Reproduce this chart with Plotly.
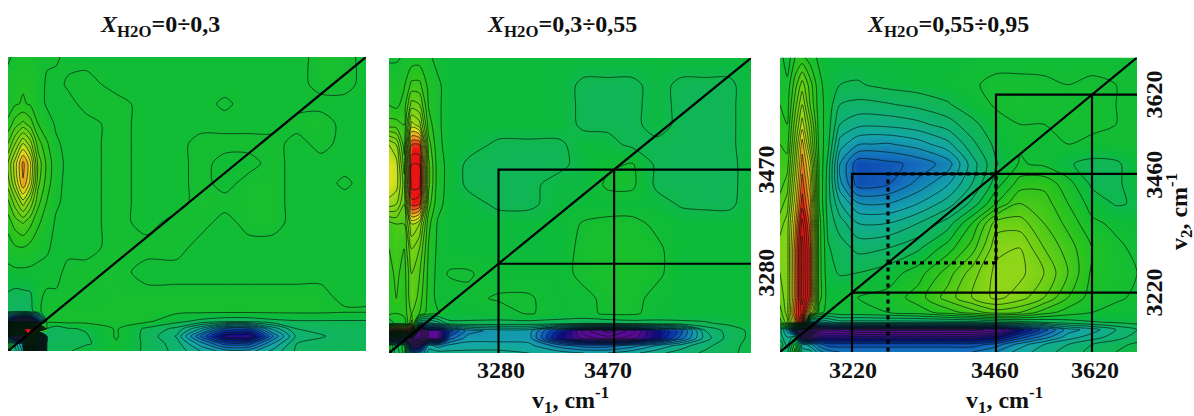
import plotly.graph_objects as go

W, H = 1194, 416
TITLES = ["<b><i>X</i><sub>H2O</sub>=0÷0,3</b>", "<b><i>X</i><sub>H2O</sub>=0,3÷0,55</b>", "<b><i>X</i><sub>H2O</sub>=0,55÷0,95</b>"]

X = [3100,3112,3125,3137,3150,3165,3180,3200,3230,3280,3330,3380,3420,3460,3500,3540,3580,3620,3660,3695]
Y = [3695,3640,3600,3560,3520,3480,3440,3400,3360,3310,3260,3210,3180,3160,3145,3130,3115,3100]

P1 = [
 [.3,.8,1.0,.9,.6,.6,.6,.3,.3,.3,.3,.3,.3,.3,.3,.3,.3,.7,.7,.3],
 [1.0,1.2,1.4,1.3,.8,.4,.3,.6,.7,.3,.3,.3,.3,.3,.3,.3,.3,.7,.7,.3],
 [.8,1.4,1.6,1.4,.8,.4,.3,.3,.7,.7,.3,.3,.3,.6,.3,.3,.3,.3,.3,.3],
 [1.8,3.0,3.8,3.0,1.5,.8,.4,.3,.3,.7,.3,.3,.3,.3,.3,.3,.7,.8,.3,.3],
 [3.5,5.5,7.5,6.0,3.0,1.6,.6,.3,.3,.7,.3,.3,.7,.7,.7,.7,.3,.7,.3,.3],
 [5.5,8.0,10.8,8.8,4.2,2.2,.8,.3,.3,.7,.3,.3,.7,.3,.3,.7,.3,.3,.3,.3],
 [5.0,7.5,10.4,8.2,3.8,2.0,.7,.3,.3,.7,.3,.3,.7,.3,.7,.7,.3,.3,.6,.3],
 [3.2,5.0,7.0,5.2,2.8,1.4,.6,.3,.3,.7,.3,.3,.7,.7,.7,.7,.3,.3,.3,.3],
 [2.0,3.0,3.6,2.8,1.7,.9,.4,.3,.3,.7,.3,.7,.7,.3,.7,.7,.3,.3,.3,.3],
 [.9,1.4,1.5,1.2,.8,.6,.3,.3,.3,.7,.7,.7,.3,.3,.3,.3,.3,.3,.3,.3],
 [.3,.3,.3,.3,.3,.3,.3,.7,.7,.7,.3,.3,.3,.3,.3,.3,.3,.3,.3,.3],
 [-.7,-.9,-.8,-.7,.4,.6,.6,.6,.6,.7,.7,.7,.7,.7,.7,.7,.7,.7,.3,.3],
 [-1.2,-1.5,-1.5,-1.0,.4,.7,.7,.7,.7,.7,.7,.7,.7,.7,.7,.7,.7,.7,.6,.6],
 [-12,-16,-20,-18,-10,.8,.8,.8,.8,.7,.7,-.2,-.8,-1.2,-1.2,-.8,-.6,-.6,-.6,-.6],
 [26,30,34,32,20,-.6,-1.2,-.6,-.4,.6,-.7,-1.8,-4.5,-8.5,-8.8,-4.2,-1.5,-1.2,-.9,-.8],
 [-10,-16,-18,34,-30,-1.5,-1.0,-.8,-.6,.6,-.8,-2.6,-7.5,-12,-12.5,-6.5,-2.2,-1.6,-1.1,-.8],
 [2,-3,-6,36,-30,-1.0,-.7,-.7,-.7,.4,-.7,-2.0,-5.0,-8.0,-8.0,-4.5,-1.5,-1.2,-.9,-.7],
 [-3,-2,-5,32,-26,-.9,-.6,-.7,.3,.3,-.7,-1.8,-3.5,-5.0,-5.0,-3.2,-1.3,-1.0,-.7,-.6],
]

P2 = [
 [.3,.4,.6,.9,1.0,.7,.2,0,0,0,0,0,0,0,0,0,0,0,0,0],
 [1.4,1.0,1.4,2.8,2.8,1.2,.7,0,0,0,0,-.1,-.7,-.7,-.7,-.2,-.7,-.7,-.7,0],
 [1.5,1.2,2.0,5.0,4.6,1.4,.7,0,0,0,0,-.1,-.7,-.7,-.7,-.2,-.7,-.7,-.7,0],
 [3.0,3.0,2.5,8.0,7.0,2.0,.7,0,0,0,0,0,-.7,-.7,-.7,-.2,-.7,-.7,-.7,0],
 [7.5,6.5,3.0,12.5,12.5,3.0,.8,0,-.1,-.7,-.7,-.7,0,-.2,-.7,-.7,-.7,-.7,-.7,0],
 [8.5,8.0,4.0,14.5,14.5,3.8,1.0,.1,-.7,-.7,-.7,-.7,-.2,.3,.6,-.7,-.7,-.7,-.8,0],
 [8.5,8.0,5.0,15.0,15.0,3.8,1.0,.1,-.7,-.7,-.7,-.2,-.2,.7,.7,-.7,-.7,-.7,-.8,0],
 [7.0,6.5,4.5,13.0,12.5,3.0,.8,.1,-.1,-.7,-.7,-.1,0,0,0,-.1,-.6,-.7,-.7,0],
 [3.0,3.5,3.5,7.5,6.5,1.8,.4,0,0,0,0,0,.6,.8,.8,.3,0,0,0,0],
 [2.5,3.0,2.5,5.5,4.5,1.4,.3,0,0,0,-.1,0,.8,1.0,1.0,.7,0,0,0,0],
 [2.0,2.8,2.0,4.5,3.6,1.2,.2,.6,.6,.1,.1,.1,.8,1.0,1.0,.7,0,0,0,0],
 [1.6,2.5,1.8,4.5,3.0,1.1,.2,0,.3,.6,.6,.1,.2,.8,.8,.2,0,0,0,0],
 [1.8,1.5,2.0,3.5,2.5,.9,.6,0,0,.1,.6,.1,.2,.7,.7,.1,0,0,0,0],
 [-.5,1.0,.5,5.0,-4.0,-4.0,-3.0,-.7,-.7,-.8,-.9,-.9,-1.2,-1.2,-1.0,-.8,-.7,-.6,-.3,0],
 [16,18,16,20,-20,-14,-14,-9,-6,-5,-5,-10,-15,-17,-15,-11,-8,-2.5,-1.0,-.3],
 [-14,-16,-14,-22,-22,-14,-14,-7,-5,-5,-5,-11,-14,-15,-14,-11,-7,-3,-1.0,-.3],
 [2,-1,1,-14,-12,-4,-5,-4.2,-4,-4,-4.2,-6,-7,-7,-6,-4.5,-3,-1.8,-.8,-.2],
 [1.5,-1.5,1,-7,-6,-3,-3,-3.2,-3.2,-3.2,-3.5,-4,-4.5,-4.5,-3.8,-2.8,-2,-1.3,-.7,-.2],
]

P3 = [
 [1.0,-.2,1.5,1.8,1.0,.3,0,-.1,0,0,0,0,.1,.2,.2,.3,.3,.3,.3,.3],
 [.6,.8,3.0,5.0,3.0,.8,0,-.5,-.6,-.2,0,.1,.4,.7,.7,.6,.5,.6,.5,.4],
 [1.5,1.0,4.0,6.5,3.5,.9,.1,-1.5,-1.8,-1.6,-1.2,-.6,.1,.6,.7,.6,.6,.7,.5,.4],
 [2.0,1.5,5.0,8.0,5.0,1.0,0,-2.5,-3.2,-3.2,-2.8,-2.0,-.8,.2,.5,.5,.6,.7,.5,.4],
 [2.5,2.0,6.0,10,6.0,1.2,-.2,-4.0,-5.4,-5.6,-5.0,-3.8,-1.8,-.2,.4,.2,.5,.3,.4,.4],
 [3.0,3.0,7.0,11,8.0,1.5,-.8,-5.5,-8.2,-7.8,-7.2,-6.0,-3.0,-.6,.6,.3,-.4,-.8,-.7,.1],
 [3.0,4.0,8.0,12,9.0,1.5,-1.0,-5.2,-8.0,-7.6,-6.2,-4.6,-2.5,0,2.0,2.2,.9,-.7,-.7,0],
 [4.0,5.0,9.0,13,10,1.5,-1.0,-3.4,-5.4,-5.5,-4.5,-3.0,-1.2,1.5,3.5,3.0,1.5,.1,-.6,-.4],
 [5.0,6.0,10,15,11,2.0,-.8,-2.0,-3.5,-3.5,-2.5,-1.0,1.5,5.0,5.0,3.5,2.2,.7,.3,0],
 [6.0,6.0,11,16,12,2.0,-.4,-1.0,-1.8,-1.5,-.7,1.0,3.0,6.2,6.5,4.5,3.0,1.5,.7,.3],
 [5.5,6.0,11,16,12,2.0,-.2,-.6,-.5,0,1.0,3.0,5.0,6.8,6.8,5.5,3.5,1.3,.8,.5],
 [5.0,6.0,11,16,12,2.0,0,.3,.5,.8,2.0,4.0,5.5,6.8,6.0,4.5,2.5,1.0,.6,.4],
 [4.0,6.0,12,15,8.0,1.0,0,.2,.2,.5,1.0,2.0,3.0,4.0,3.5,2.0,1.0,.5,.3,.2],
 [3.0,5.0,10,18,-6,-5,-4,-3,-3,-3,-3,-3,-3,-2.5,-2,-1.5,-1,-.6,-.4,-.2],
 [-2,-5,-12,-22,-24,-16,-15,-15,-16,-16,-16,-16,-16,-15,-11,-8,-5,-4,-2.5,-1.5],
 [-2,-3.5,-2,-14,-14,-12,-12,-12,-12,-12,-12,-12,-12,-11,-8,-6,-4,-3,-2,-1],
 [-.5,-3,1,-4,-5,-7,-8,-8,-8,-8,-8,-8,-8,-7,-5,-3.5,-2.5,-1.5,-.8,-.3],
 [-2,-2,2,-3,-3,-5,-6,-6.5,-6.5,-6.5,-6.5,-6.5,-6.5,-5.5,-4,-3,-2,-1.2,-.5,0],
]
PANELS = [P1, P2, P3]

# v values of guide lines
V2 = [3280, 3470]
V3 = [3220, 3460, 3620]
DOT = [3280, 3460]
LOW, HIGH = 3100, 3695
BELOW = 3085

BOX = [(8, 366, 57, 351), (389, 751, 58, 353), (780, 1137, 57.5, 352)]
AXES = ["", "2", "3"]
ZMAX = 14
CS = [(-14,"rgb(90,10,150)"),(-11,"rgb(10,10,130)"),(-9,"rgb(10,50,170)"),(-7,"rgb(20,110,190)"),
      (-4.5,"rgb(20,165,170)"),(-2,"rgb(15,178,110)"),(-.7,"rgb(16,182,85)"),(0,"rgb(12,187,58)"),(2,"rgb(40,195,30)"),
      (5,"rgb(110,208,20)"),(7,"rgb(150,215,25)"),(8.5,"rgb(225,225,30)"),(10.5,"rgb(240,150,30)"),(13,"rgb(235,20,20)"),(14,"rgb(235,20,20)")]
colorscale = [[(v+ZMAX)/(2*ZMAX), c] for v, c in CS]

fig = go.Figure()
for i, z in enumerate(PANELS):
    a = AXES[i]
    fig.add_trace(go.Contour(x=X, y=Y[::-1], z=z[::-1], xaxis="x"+a, yaxis="y"+a,
        colorscale=colorscale, zmin=-ZMAX, zmax=ZMAX, zauto=False, showscale=False,
        autocontour=False,
        contours=dict(coloring="heatmap", start=-59.5, end=59.5, size=1, showlines=True),
        line=dict(color="rgba(5,25,15,0.85)", width=0.8, smoothing=0.8), hoverinfo="skip"))

def seg(a, xs, ys, w=2.2, dash="solid"):
    fig.add_trace(go.Scatter(x=xs, y=ys, xaxis="x"+a, yaxis="y"+a, mode="lines", cliponaxis=False,
        line=dict(color="black", width=w, dash=dash), hoverinfo="skip", showlegend=False))

for a in AXES:
    seg(a, [LOW, HIGH], [LOW, HIGH], 2.2)

a1, a2 = V2
seg("2", [a1, a1, HIGH], [LOW, a2, a2])
seg("2", [a1, HIGH], [a1, a1])
seg("2", [a2, a2], [LOW, a2])

b1, b2, b3 = V3
seg("3", [b1, b1, HIGH], [LOW, b2, b2])
seg("3", [b1, HIGH], [b1, b1])
seg("3", [b2, b2, HIGH], [LOW, b3, b3])
seg("3", [b3, b3], [LOW, b3])
d1, d2 = DOT
seg("3", [d1, d1, d2, d2], [BELOW, d2, d2, d1], 3.2, "4px,4px")
seg("3", [d1, d2], [d1, d1], 3.2, "4px,4px")

layout = dict(width=W, height=H, margin=dict(l=0, r=0, t=0, b=0), paper_bgcolor="white",
              plot_bgcolor="white", showlegend=False)
for i, (l, r, t, b) in enumerate(BOX):
    a = AXES[i]
    layout["xaxis"+a] = dict(domain=[l/W, r/W], range=[LOW, HIGH], showgrid=False, zeroline=False, anchor="y"+a,
        showticklabels=False, ticks="", showline=False)
    layout["yaxis"+a] = dict(domain=[1-b/H, 1-t/H], range=[LOW, HIGH], showgrid=False, zeroline=False, anchor="x"+a,
        showticklabels=False, ticks="", showline=False)
fig.update_layout(**layout)

TXT = dict(family="Liberation Serif", color="#111")

def note(text, x, y, angle=0, size=24):
    fig.add_annotation(text=text, x=x/W, y=1-y/H, xref="paper", yref="paper", showarrow=False, textangle=angle,
        xanchor="center", yanchor="middle", font=dict(size=size, **TXT))

def xlabel(a, v, shift):
    fig.add_annotation(text=f"<b>{v}</b>", x=v, xref="x"+a, y=1-370/H, yref="paper", xshift=shift, showarrow=False,
        xanchor="center", yanchor="middle", font=dict(size=24, **TXT))

def ylabel(a, v, px, shift):
    fig.add_annotation(text=f"<b>{v}</b>", x=px/W, xref="paper", y=v, yref="y"+a, yshift=shift, showarrow=False,
        textangle=-90, xanchor="center", yanchor="middle", font=dict(size=24, **TXT))

note(TITLES[0], 160, 26)
note(TITLES[1], 562, 26)
note(TITLES[2], 948, 26)
note("<b>v<sub>1</sub>, cm<sup>-1</sup></b>", 570, 400)
note("<b>v<sub>1</sub>, cm<sup>-1</sup></b>", 1004, 400)
note("<b>v<sub>2</sub>, cm<sup>-1</sup></b>", 1179, 212, -90)
for v, s in zip(V2, [2, -6]):
    xlabel("2", v, s)
for v, s in zip(V3, [1, -1, 3]):
    xlabel("3", v, s)
for v, s in zip(V2, [-9, 0]):
    ylabel("2", v, 766, s)
for v, s in zip(V3, [0, -1, 0]):
    ylabel("3", v, 1154, s)

fig.write_html("out.html", post_script="document.body.style.margin='0';", config={"displayModeBar": False})
